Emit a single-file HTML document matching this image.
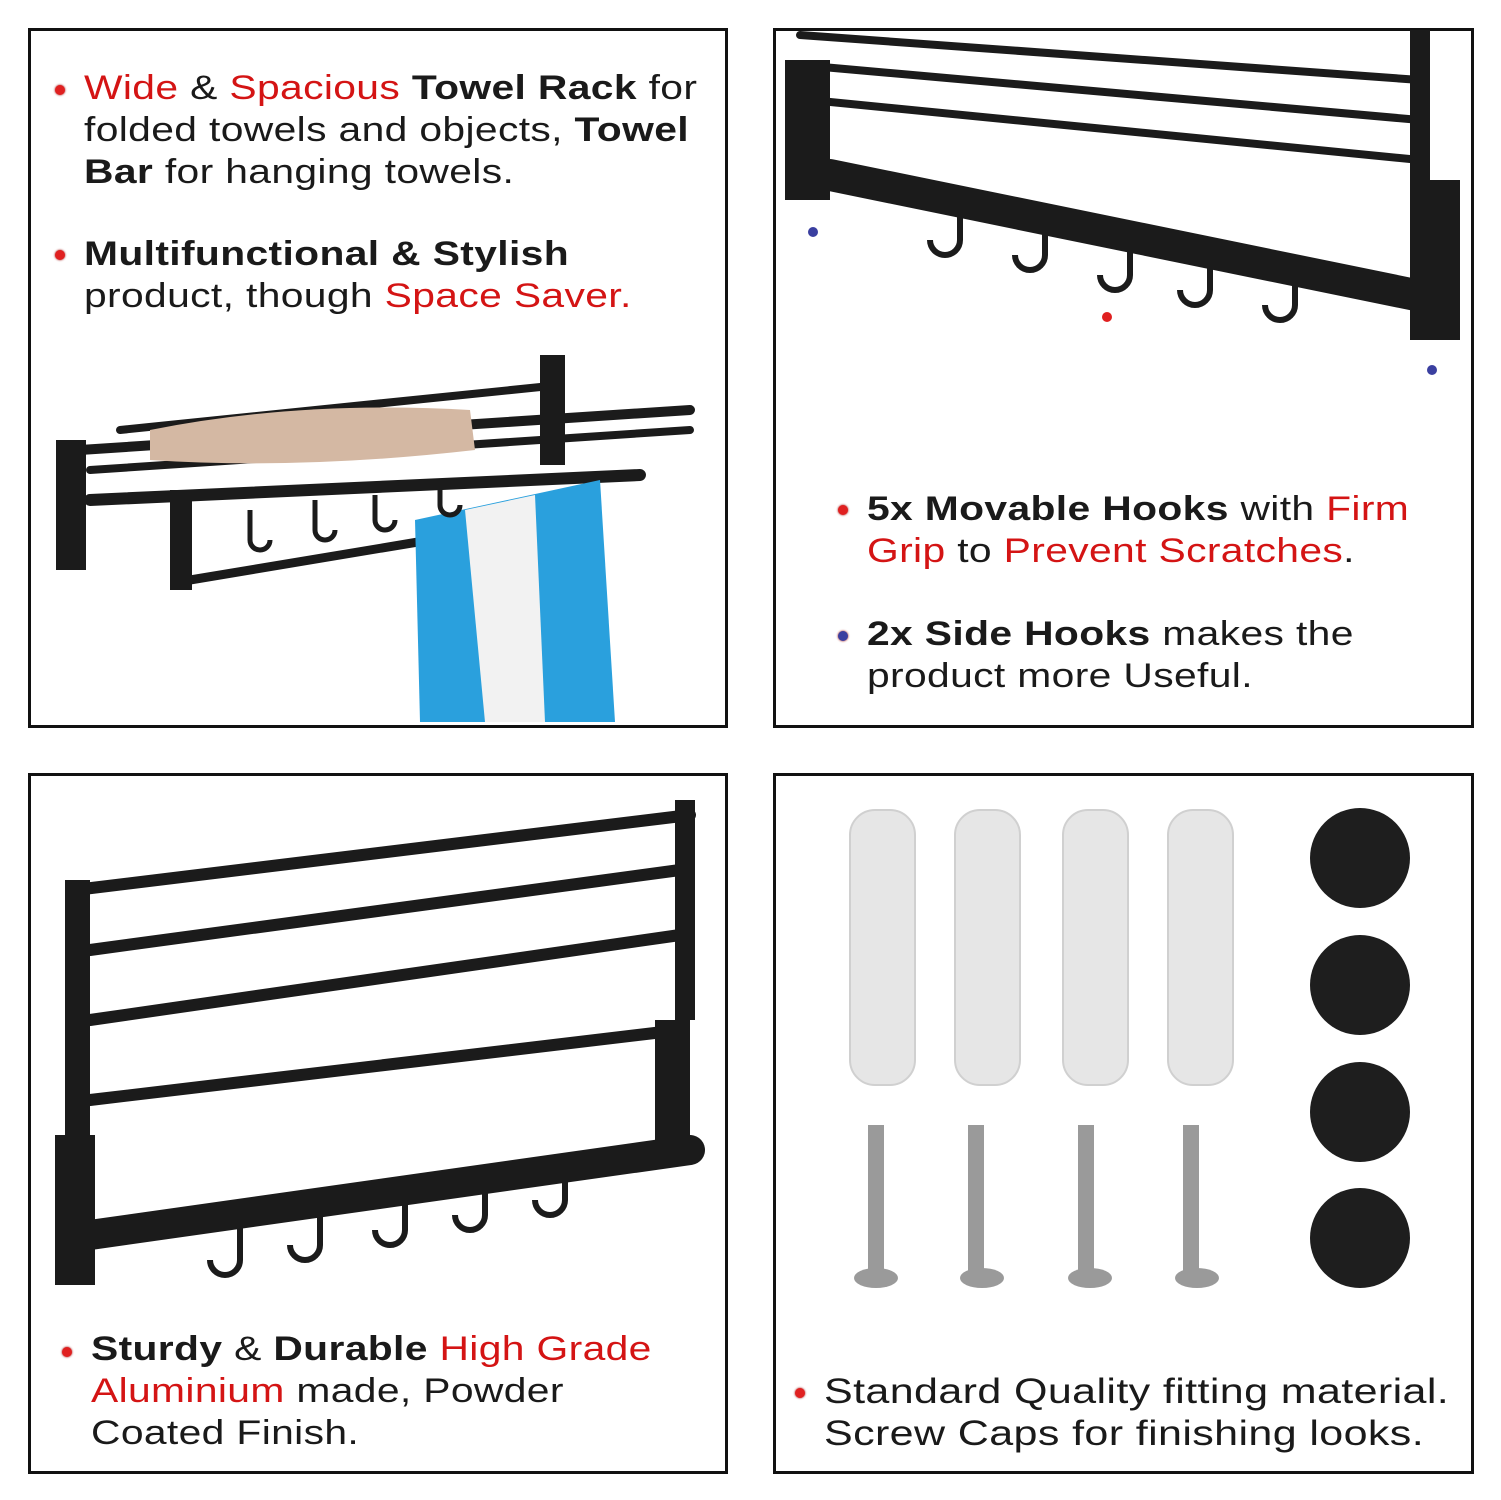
<!DOCTYPE html>
<html><head><meta charset="utf-8"><style>
body{margin:0;width:1501px;height:1500px;background:#fff;position:relative;overflow:hidden;font-family:"Liberation Sans",sans-serif;}
.box{position:absolute;border:3px solid #111;box-sizing:border-box;background:#fff;}
.t{position:absolute;font-size:34px;line-height:42px;color:#1a1a1a;white-space:nowrap;letter-spacing:0.3px;transform:scaleX(1.2);transform-origin:0 0}
.r{color:#d41414}
.dot{position:absolute;width:10px;height:10px;border-radius:50%;background:#e02020;box-shadow:0 0 2px #900}
.b{background:#3a3fa0}
svg{position:absolute;left:0;top:0}
</style></head><body>
<div class="box" style="left:28px;top:28px;width:700px;height:700px"></div>
<div class="box" style="left:773px;top:28px;width:701px;height:700px"></div>
<div class="box" style="left:28px;top:773px;width:700px;height:701px"></div>
<div class="box" style="left:773px;top:773px;width:701px;height:701px"></div>

<svg width="1501" height="1500">
<g stroke="#1b1b1b" stroke-linecap="round" fill="none">
<line x1="80" y1="450" x2="690" y2="410" stroke-width="10"/>
<line x1="90" y1="470" x2="690" y2="430" stroke-width="8"/>
<line x1="90" y1="500" x2="640" y2="475" stroke-width="12"/>
<line x1="190" y1="580" x2="430" y2="540" stroke-width="9"/>
<line x1="120" y1="430" x2="560" y2="385" stroke-width="8"/>
</g>
<rect x="56" y="440" width="30" height="130" fill="#1b1b1b"/>
<rect x="540" y="355" width="25" height="110" fill="#1b1b1b"/>
<rect x="170" y="490" width="22" height="100" fill="#1b1b1b"/>
<path d="M150 430 Q300 400 470 410 L475 450 Q300 470 150 460Z" fill="#d4b8a3"/>
<path d="M415 520 L600 480 L615 722 L420 722Z" fill="#2aa0dd"/>
<path d="M465 510 L535 495 L545 722 L485 722Z" fill="#f2f2f2"/>
<g stroke="#1b1b1b" stroke-width="5" fill="none">
<path d="M250 510 v30 a10 10 0 0 0 20 0"/><path d="M315 500 v30 a10 10 0 0 0 20 0"/><path d="M375 495 v25 a10 10 0 0 0 20 0"/><path d="M440 485 v20 a10 10 0 0 0 20 0"/>
</g>
<g stroke="#1b1b1b" stroke-linecap="round" fill="none">
<line x1="800" y1="35" x2="1420" y2="80" stroke-width="8"/>
<line x1="800" y1="65" x2="1420" y2="120" stroke-width="8"/>
<line x1="810" y1="100" x2="1420" y2="160" stroke-width="8"/>
<line x1="830" y1="175" x2="1440" y2="300" stroke-width="32"/>
</g>
<rect x="785" y="60" width="45" height="140" fill="#1b1b1b"/>
<rect x="1410" y="30" width="20" height="160" fill="#1b1b1b"/>
<rect x="1410" y="180" width="50" height="160" fill="#1b1b1b"/>
<g stroke="#1b1b1b" stroke-width="6" fill="none">
<path d="M960 210 v30 a15 15 0 0 1 -30 0"/><path d="M1045 225 v30 a15 15 0 0 1 -30 0"/><path d="M1130 245 v30 a15 15 0 0 1 -30 0"/><path d="M1210 260 v30 a15 15 0 0 1 -30 0"/><path d="M1295 275 v30 a15 15 0 0 1 -30 0"/>
</g>
<circle cx="813" cy="232" r="5" fill="#3a3fa0"/><circle cx="1107" cy="317" r="5" fill="#e02020"/><circle cx="1432" cy="370" r="5" fill="#3a3fa0"/>
<g stroke="#1b1b1b" stroke-linecap="round" fill="none">
<line x1="75" y1="890" x2="690" y2="815" stroke-width="12"/>
<line x1="90" y1="950" x2="680" y2="870" stroke-width="12"/>
<line x1="90" y1="1020" x2="680" y2="935" stroke-width="12"/>
<line x1="90" y1="1100" x2="680" y2="1030" stroke-width="12"/>
<line x1="90" y1="1235" x2="690" y2="1150" stroke-width="30"/>
</g>
<rect x="65" y="880" width="25" height="260" fill="#1b1b1b"/>
<rect x="675" y="800" width="20" height="220" fill="#1b1b1b"/>
<rect x="55" y="1135" width="40" height="150" fill="#1b1b1b"/>
<rect x="655" y="1020" width="35" height="140" fill="#1b1b1b"/>
<g stroke="#1b1b1b" stroke-width="6" fill="none">
<path d="M240 1220 v40 a15 15 0 0 1 -30 0"/><path d="M320 1205 v40 a15 15 0 0 1 -30 0"/><path d="M405 1190 v40 a15 15 0 0 1 -30 0"/><path d="M485 1175 v40 a15 15 0 0 1 -30 0"/><path d="M565 1160 v40 a15 15 0 0 1 -30 0"/>
</g>
<g fill="#e6e6e6" stroke="#d0d0d0" stroke-width="2">
<rect x="850" y="810" width="65" height="275" rx="25"/><rect x="955" y="810" width="65" height="275" rx="25"/><rect x="1063" y="810" width="65" height="275" rx="25"/><rect x="1168" y="810" width="65" height="275" rx="25"/>
</g>
<g fill="#9a9a9a">
<rect x="868" y="1125" width="16" height="150"/><rect x="968" y="1125" width="16" height="150"/><rect x="1078" y="1125" width="16" height="150"/><rect x="1183" y="1125" width="16" height="150"/>
<ellipse cx="876" cy="1278" rx="22" ry="10"/><ellipse cx="982" cy="1278" rx="22" ry="10"/><ellipse cx="1090" cy="1278" rx="22" ry="10"/><ellipse cx="1197" cy="1278" rx="22" ry="10"/>
</g>
<g fill="#1e1e1e">
<circle cx="1360" cy="858" r="50"/><circle cx="1360" cy="985" r="50"/><circle cx="1360" cy="1112" r="50"/><circle cx="1360" cy="1238" r="50"/>
</g>
</svg>

<div class="dot" style="left:55px;top:85px"></div>
<div class="t" style="left:84px;top:67px"><span class="r">Wide</span> &amp; <span class="r">Spacious</span> <b>Towel Rack</b> for<br>folded towels and objects, <b>Towel</b><br><b>Bar</b> for hanging towels.</div>
<div class="dot" style="left:55px;top:250px"></div>
<div class="t" style="left:84px;top:233px"><b>Multifunctional &amp; Stylish</b><br>product, though <span class="r">Space Saver.</span></div>

<div class="dot" style="left:838px;top:505px"></div>
<div class="t" style="left:867px;top:488px"><b>5x Movable Hooks</b> with <span class="r">Firm</span><br><span class="r">Grip</span> to <span class="r">Prevent Scratches</span>.</div>
<div class="dot b" style="left:838px;top:631px"></div>
<div class="t" style="left:867px;top:613px"><b>2x Side Hooks</b> makes the<br>product more Useful.</div>

<div class="dot" style="left:62px;top:1347px"></div>
<div class="t" style="left:91px;top:1328px"><b>Sturdy</b> &amp; <b>Durable</b> <span class="r">High Grade</span><br><span class="r">Aluminium</span> made, Powder<br>Coated Finish.</div>

<div class="dot" style="left:795px;top:1388px"></div>
<div class="t" style="left:824px;top:1371px;font-size:35px;transform:scaleX(1.23)">Standard Quality fitting material.<br>Screw Caps for finishing looks.</div>
</body></html>
